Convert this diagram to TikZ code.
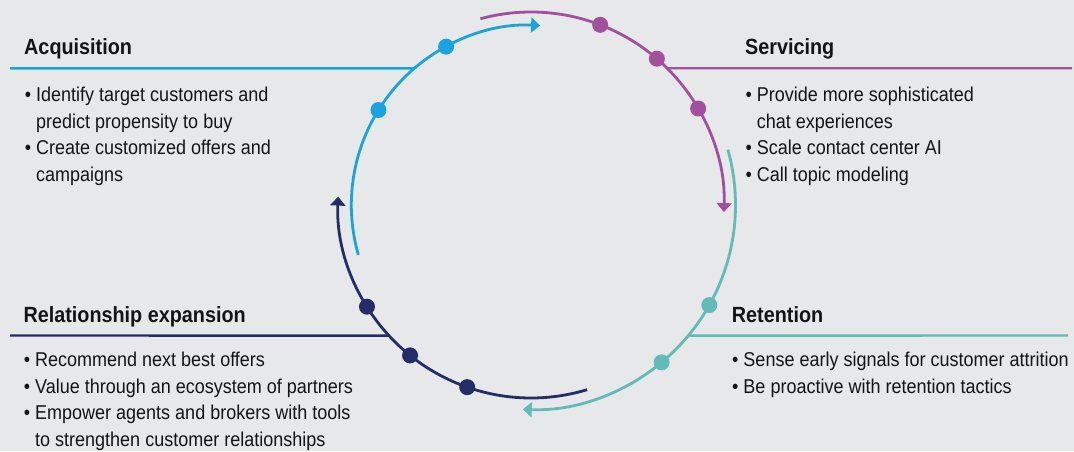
\documentclass[tikz,border=0pt]{standalone}
\usepackage{fontspec}
\setmainfont{Liberation Sans}[FakeStretch=0.9]
\usetikzlibrary{arrows.meta}

\definecolor{bgGray}{HTML}{E7E8EA}
\definecolor{acqBlue}{HTML}{1AA3DF}
\definecolor{servPurple}{HTML}{A1509D}
\definecolor{retTeal}{HTML}{62BBB6}
\definecolor{relNavy}{HTML}{232D68}
\definecolor{inkText}{HTML}{141414}

\tikzset{
  ring/.style={line width=2.8pt},
  ringtip/.style={-{Triangle[length=9pt,width=15pt]}},
  ringdot/.style={circle, fill, inner sep=0pt, minimum size=16pt},
  rule/.style={line width=2.4pt},
  heading/.style={anchor=base west, inner sep=0pt, text=inkText,
    font=\bfseries\fontsize{22}{26}\selectfont},
  % base anchor of a list sits on its last line
  bullets/.style={anchor=base west, inner sep=0pt, align=left, text=inkText,
    font=\fontsize{20}{26.5}\selectfont}
}

\newcommand{\itm}{\llap{\textbullet\ }}

\begin{document}
\begin{tikzpicture}[x=1pt, y=1pt]
  \path[use as bounding box, fill=bgGray] (0,0) rectangle (1074,451);

  \coordinate (ctr) at (531,246);

  % the four arcs of the cycle
  \draw[ring, acqBlue, ringtip] ([shift={(196.1:179.7)}]ctr)
    arc[start angle=196.1, end angle=87.1, radius=179.7];
  \draw[ring, servPurple, ringtip] ([shift={(105.2:193)}]ctr)
    arc[start angle=105.2, end angle=-2.1, radius=193];
  \draw[ring, retTeal, ringtip] ([shift={(15.7:204.5)}]ctr)
    arc[start angle=15.7, end angle=-92.3, radius=204.5];
  \draw[ring, relNavy, ringtip] ([shift={(-73.1:193)}]ctr)
    arc[start angle=-73.1, end angle=-182.5, radius=193];

  % rules under the headings
  \coordinate (acqL) at (10,382.7);
  \coordinate (acqR) at ([shift={(130.5:179.7)}]ctr);
  \coordinate (servL) at ([shift={(45.1:193)}]ctr);
  \coordinate (servR) at (1072,382.7);
  \coordinate (retL) at ([shift={(-39.7:204.5)}]ctr);
  \coordinate (retR) at (1068,115.5);
  \coordinate (relL) at (10,115.5);
  \coordinate (relR) at ([shift={(222.6:193)}]ctr);

  \draw[rule, acqBlue] (acqL) -- (acqR);
  \draw[rule, servPurple] (servL) -- (servR);
  \draw[rule, retTeal] (retL) -- (retR);
  \draw[rule, relNavy] (relL) -- (relR);

  % dots on the arcs
  \node[ringdot, acqBlue] (acq1) at ([shift={(148.1:179.7)}]ctr) {};
  \node[ringdot, acqBlue] (acq2) at ([shift={(118.2:179.7)}]ctr) {};

  \node[ringdot, servPurple] (serv1) at ([shift={(69:193)}]ctr) {};
  \node[ringdot, servPurple] (serv2) at ([shift={(49.3:193)}]ctr) {};
  \node[ringdot, servPurple] (serv3) at ([shift={(30:193)}]ctr) {};

  \node[ringdot, retTeal] (ret1) at ([shift={(-29.3:204.5)}]ctr) {};
  \node[ringdot, retTeal] (ret2) at ([shift={(-50.3:204.5)}]ctr) {};

  \node[ringdot, relNavy] (rel1) at ([shift={(-109.3:193)}]ctr) {};
  \node[ringdot, relNavy] (rel2) at ([shift={(-128.8:193)}]ctr) {};
  \node[ringdot, relNavy] (rel3) at ([shift={(-148.2:193)}]ctr) {};

  % headings
  \node[heading] (acqHead) at (24,396) {Acquisition};
  \node[heading] (servHead) at (745,396) {Servicing};
  \node[heading] (relHead) at (23.3,128.7) {Relationship expansion};
  \node[heading] (retHead) at (731.7,128.7) {Retention};

  % bullet lists
  \node[bullets] (acqList) at (36,270) {\itm Identify target customers and\\
    predict propensity to buy\\
    \itm Create customized offers and\\
    campaigns};
  \node[bullets] (servList) at (756.7,270) {\itm Provide more sophisticated\\
    chat experiences\\
    \itm Scale contact center AI\\
    \itm Call topic modeling};
  \node[bullets] (relList) at (35,5) {\itm Recommend next best offers\\
    \itm Value through an ecosystem of partners\\
    \itm Empower agents and brokers with tools\\
    to strengthen customer relationships};
  \node[bullets] (retList) at (743.3,58) {\itm Sense early signals for customer attrition\\
    \itm Be proactive with retention tactics};
\end{tikzpicture}
\end{document}
